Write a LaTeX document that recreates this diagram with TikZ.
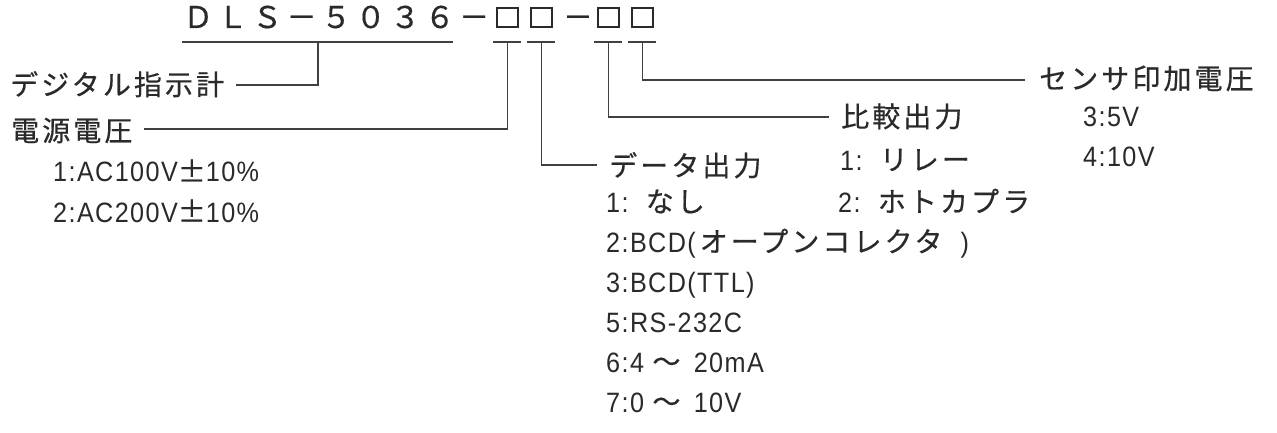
\documentclass[tikz,border=0pt]{standalone}
\usepackage{fontspec}
\usetikzlibrary{calc}
\newfontfamily\jpf[LetterSpace=11,FakeBold=0.5]{Noto Sans CJK JP}
\newfontfamily\latf[FakeStretch=0.9,LetterSpace=5]{Liberation Sans}
\newfontfamily\ttlf[LetterSpace=15,FakeBold=0.5]{Noto Sans CJK JP}
\newcommand\J[1]{{\jpf\fontsize{28}{32}\selectfont #1}}
\definecolor{ink}{HTML}{2A2A2A}
\definecolor{lncol}{HTML}{404040}
\begin{document}
\begin{tikzpicture}[x=1pt,y=-1pt,
  jp/.style={font=\jpf\fontsize{28}{32}\selectfont, text=ink, inner sep=0pt, anchor=base west},
  lat/.style={font=\latf\fontsize{28}{32}\selectfont, text=ink, inner sep=0pt, anchor=base west},
  ttl/.style={font=\ttlf\fontsize{30}{34}\selectfont, text=ink, inner sep=0pt, anchor=base west},
  cbox/.style={draw=ink, line width=1.1pt, minimum width=21pt, minimum height=19pt, inner sep=0pt},
  ln/.style={draw=lncol, line width=1.3pt}]
\fill[white] (0,0) rectangle (1277,433);
\useasboundingbox (0,0) rectangle (1277,433);
% title
\node[ttl] (t0) at (183,28) {ＤＬＳ－５０３６－};
\node[cbox] (b1) at (507.5,17.5) {};
\node[cbox] (b2) at (541.5,17.5) {};
\node[ttl,anchor=base] (td) at (578,28) {－};
\node[cbox] (b3) at (608.5,17.5) {};
\node[cbox] (b4) at (642.5,17.5) {};
\coordinate (ul) at (182,42);
\coordinate (ur) at (453,42);
\coordinate (um) at (318,42);
\draw[ln] (ul) -- (ur);
\foreach \b in {b1,b2,b3,b4}
  \draw[ln] ($(\b.west |- 0,42)+(-3,0)$) -- ($(\b.east |- 0,42)+(2,0)$);
% labels
\node[jp] (dj) at (10,95) {デジタル指示計};
\node[jp] (pw) at (11,141) {電源電圧};
\node[lat] (pw1) at (53,182) {1:AC100V\J{±}10\%};
\node[lat] (pw2) at (53,222) {2:AC200V\J{±}10\%};
\node[jp] (do) at (609,176) {データ出力};
\node[lat] (do1) at (606,212) {1: \hspace{6pt}\J{なし}};
\node[lat] (do2) at (606,252) {2:BCD(\hspace{4pt}\J{オープンコレクタ}\hspace{18pt})};
\node[lat] (do3) at (606,292) {3:BCD(TTL)};
\node[lat] (do5) at (606,332) {5:RS-232C};
\node[lat] (do6) at (606,372) {6:4 \J{～} \hspace{5pt}20mA};
\node[lat] (do7) at (606,412) {7:0 \J{～} \hspace{5pt}10V};
\node[jp] (cp) at (841,127) {比較出力};
\node[lat] (cp1) at (840,170) {1: \hspace{6pt}\J{リレー}};
\node[lat] (cp2) at (838,212) {2: \hspace{6pt}\J{ホトカプラ}};
\node[jp] (sv) at (1039,89) {センサ印加電圧};
\node[lat] (sv1) at (1083,127) {3:5V};
\node[lat] (sv2) at (1083,167) {4:10V};
% connectors
\draw[ln] (um) |- ($(dj.east |- 0,85)+(12,0)$);
\draw[ln] (b1.south |- 0,42) |- ($(pw.east |- 0,129)+(11,0)$);
\draw[ln] (b2.south |- 0,42) |- ($(do.west |- 0,165)+(-12,0)$);
\draw[ln] (b3.south |- 0,42) |- ($(cp.west |- 0,117)+(-12,0)$);
\draw[ln] (b4.south |- 0,42) |- ($(sv.west |- 0,80)+(-14,0)$);
\end{tikzpicture}
\end{document}
